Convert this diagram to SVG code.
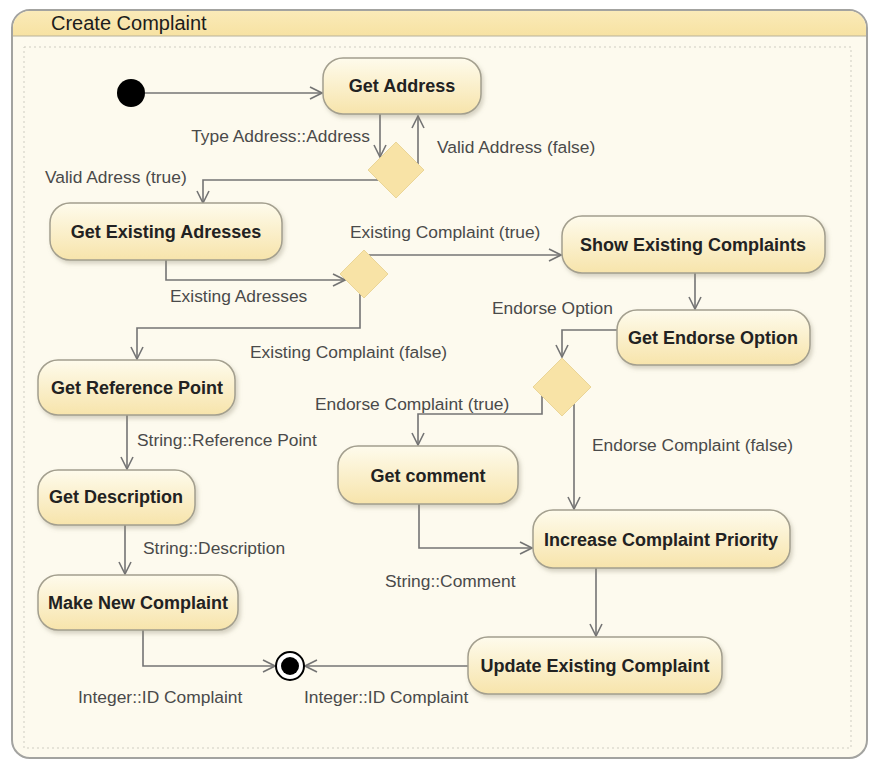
<svg xmlns="http://www.w3.org/2000/svg" width="871" height="760" viewBox="0 0 871 760">
<style>
.node rect{fill:url(#ng);stroke:#a39f8e;stroke-width:1.5;filter:url(#sh)}
.nt{font-family:"Liberation Sans",Arial,sans-serif;font-size:18px;font-weight:bold;fill:#222;text-anchor:middle}
.lb{font-family:"Liberation Sans",Arial,sans-serif;font-size:17.4px;fill:#4a4a4a}
.dec polygon{fill:#f8e3a6;stroke:#ead597;stroke-width:1}
.edges path{fill:none;stroke:#747474;stroke-width:1.6;marker-end:url(#ah)}
</style>
<defs>
<linearGradient id="ng" x1="0" y1="0" x2="0" y2="1">
<stop offset="0" stop-color="#fefbec"/>
<stop offset="1" stop-color="#f7e4ab"/>
</linearGradient>
<linearGradient id="hg" x1="0" y1="0" x2="0" y2="1">
<stop offset="0" stop-color="#faeab8"/>
<stop offset="1" stop-color="#f7e2a2"/>
</linearGradient>
<filter id="sh" x="-10%" y="-10%" width="125%" height="135%">
<feDropShadow dx="2" dy="3" stdDeviation="2" flood-color="#8a8470" flood-opacity="0.35"/>
</filter>
<marker id="ah" viewBox="0 0 14 14" refX="13" refY="7" markerWidth="14" markerHeight="14" markerUnits="userSpaceOnUse" orient="auto">
<path d="M1,1 L13,7 L1,13" fill="none" stroke="#747474" stroke-width="1.6"/>
</marker>
</defs>
<g id="frame">
<rect x="12" y="10" width="855" height="748" rx="18" fill="#fdfaee" stroke="#a3a3a0" stroke-width="2"/>
<path d="M13,36 V28 A17,17 0 0 1 30,11 H849 A17,17 0 0 1 866,28 V36 Z" fill="url(#hg)"/>
<line x1="13" y1="36" x2="866" y2="36" stroke="#b8b29a" stroke-width="1"/>
<rect x="24" y="47" width="827" height="701" fill="none" stroke="#cfcdc2" stroke-width="1" stroke-dasharray="2,3"/>
<text x="51" y="30" font-family="'Liberation Sans',Arial,sans-serif" font-size="20" fill="#1c1c1c">Create Complaint</text>
</g>
<g id="edges" class="edges">
<path d="M145,93 H322"/>
<path d="M380,114 V157"/>
<path d="M418,164 V116"/>
<path d="M378,180 H203 V203"/>
<path d="M166,260 V280 H345"/>
<path d="M369,255 H561"/>
<path d="M360,294 V328 H137 V359"/>
<path d="M695,273 V309"/>
<path d="M617,330 H562 V357"/>
<path d="M542,396 V414 H418 V445"/>
<path d="M574,404 V509"/>
<path d="M419,504 V548 H532"/>
<path d="M596,568 V636"/>
<path d="M127,415 V469"/>
<path d="M125,525 V574"/>
<path d="M143,630 V666 H275"/>
<path d="M468,666 H305"/>
</g>
<g id="labels" class="lb">
<text x="370" y="142" text-anchor="end">Type Address::Address</text>
<text x="437" y="153">Valid Address (false)</text>
<text x="45" y="183">Valid Adress (true)</text>
<text x="350" y="238">Existing Complaint (true)</text>
<text x="170" y="302">Existing Adresses</text>
<text x="250" y="358">Existing Complaint (false)</text>
<text x="492" y="314">Endorse Option</text>
<text x="315" y="410">Endorse Complaint (true)</text>
<text x="592" y="451">Endorse Complaint (false)</text>
<text x="137" y="446">String::Reference Point</text>
<text x="143" y="554">String::Description</text>
<text x="385" y="587">String::Comment</text>
<text x="78" y="703">Integer::ID Complaint</text>
<text x="304" y="703">Integer::ID Complaint</text>
</g>
<g id="initial"><circle cx="131" cy="93" r="14" fill="#000"/></g>
<g id="final"><circle cx="290" cy="666" r="14" fill="#fff" stroke="#000" stroke-width="2"/><circle cx="290" cy="666" r="9" fill="#000"/></g>
<g id="d1" class="dec"><polygon points="396,142 424,170 396,198 368,170"/></g>
<g id="d2" class="dec"><polygon points="364,250 388,274 364,298 340,274"/></g>
<g id="d3" class="dec"><polygon points="562,358 591,387 562,416 533,387"/></g>
<g id="n-get-address" class="node"><rect x="323" y="58" width="158" height="56" rx="20"/><text class="nt" x="402" y="92">Get Address</text></g>
<g id="n-get-existing-adresses" class="node"><rect x="50" y="203" width="232" height="57" rx="20"/><text class="nt" x="166" y="238">Get Existing Adresses</text></g>
<g id="n-show-existing-complaints" class="node"><rect x="562" y="216" width="263" height="57" rx="20"/><text class="nt" x="693" y="251">Show Existing Complaints</text></g>
<g id="n-get-endorse-option" class="node"><rect x="617" y="310" width="193" height="55" rx="20"/><text class="nt" x="713" y="344">Get Endorse Option</text></g>
<g id="n-get-reference-point" class="node"><rect x="38" y="360" width="197" height="55" rx="20"/><text class="nt" x="137" y="394">Get Reference Point</text></g>
<g id="n-get-comment" class="node"><rect x="338" y="446" width="180" height="58" rx="20"/><text class="nt" x="428" y="482">Get comment</text></g>
<g id="n-increase-complaint-priority" class="node"><rect x="533" y="510" width="257" height="58" rx="20"/><text class="nt" x="661" y="546">Increase Complaint Priority</text></g>
<g id="n-get-description" class="node"><rect x="38" y="470" width="157" height="55" rx="20"/><text class="nt" x="116" y="503">Get Description</text></g>
<g id="n-make-new-complaint" class="node"><rect x="38" y="575" width="200" height="55" rx="20"/><text class="nt" x="138" y="609">Make New Complaint</text></g>
<g id="n-update-existing-complaint" class="node"><rect x="468" y="637" width="254" height="57" rx="20"/><text class="nt" x="595" y="672">Update Existing Complaint</text></g>
</svg>
